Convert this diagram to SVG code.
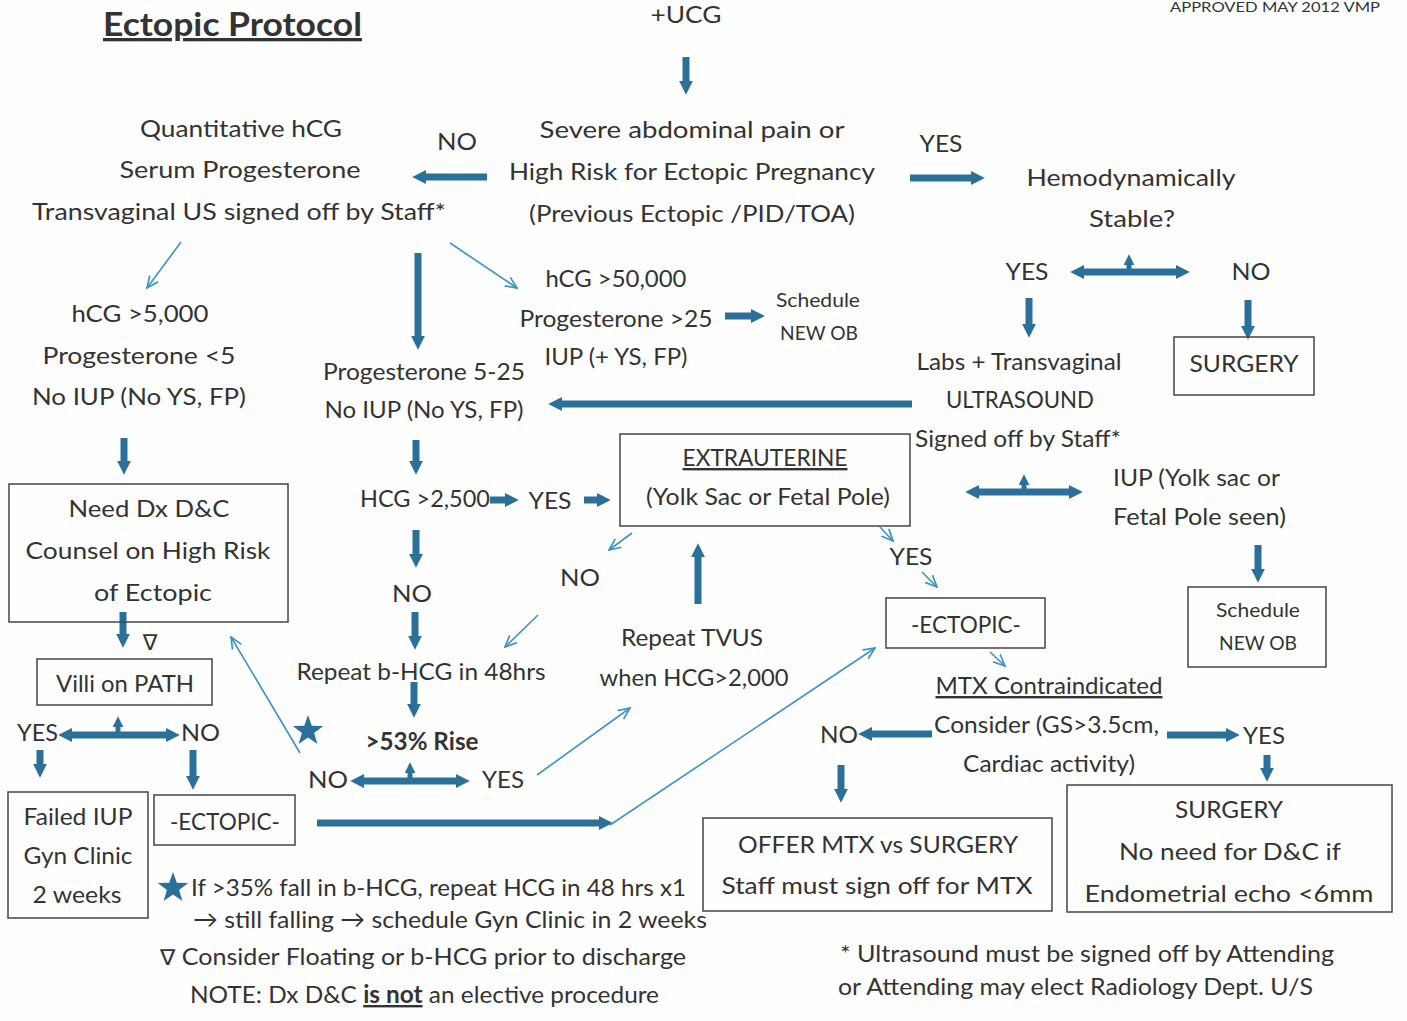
<svg xmlns="http://www.w3.org/2000/svg" width="1407" height="1021" viewBox="0 0 1407 1021">
<defs>
<style>
text{font-family:Lato,"Open Sans","Liberation Sans",sans-serif;fill:#333;font-size:24px}
.c{text-anchor:middle}
.s{font-size:20px}
.b{font-weight:bold}
.box{fill:none;stroke:#444;stroke-width:1.5}
.tk{fill:none;stroke:#2b7099;stroke-width:7;marker-end:url(#ah)}
.dbl{fill:none;stroke:#2b7099;stroke-width:7;marker-end:url(#ah);marker-start:url(#ah)}
.tick{fill:none;stroke:#2b7099;stroke-width:5;marker-end:url(#ahs)}
.tn{fill:none;stroke:#3d93c4;stroke-width:1.6;marker-end:url(#at)}
.star{fill:#2b6f9b}
</style>
<marker id="ah" viewBox="0 0 10 10" refX="3" refY="5" markerWidth="14" markerHeight="14" markerUnits="userSpaceOnUse" orient="auto-start-reverse"><path d="M0,0 L10,5 L0,10 z" fill="#2b7099"/></marker>
<marker id="ahs" viewBox="0 0 10 10" refX="3" refY="5" markerWidth="11" markerHeight="11" markerUnits="userSpaceOnUse" orient="auto"><path d="M0,0 L10,5 L0,10 z" fill="#2b7099"/></marker>
<marker id="at" viewBox="0 0 10 10" refX="9" refY="5" markerWidth="13" markerHeight="13" markerUnits="userSpaceOnUse" orient="auto"><path d="M0,1 L9,5 L0,9" fill="none" stroke="#3d93c4" stroke-width="1.3"/></marker>
<path id="star" d="M0,-16 L3.76,-5.18 L15.22,-4.94 L6.09,1.98 L9.4,12.94 L0,6.4 L-9.4,12.94 L-6.09,1.98 L-15.22,-4.94 L-3.76,-5.18 z"/>
</defs>
<rect width="1407" height="1021" fill="#fdfefd"/>

<g id="title">
<text x="103" y="36" class="b" style="font-size:33px;text-decoration:underline" textLength="259" lengthAdjust="spacingAndGlyphs">Ectopic Protocol</text>
<text x="1170" y="12" style="font-size:14px" textLength="210" lengthAdjust="spacingAndGlyphs">APPROVED MAY 2012 VMP</text>
</g>

<g id="connectors">
<path class="tk" d="M686,57 V85"/>
<path class="tk" d="M487,177 H422"/>
<path class="tk" d="M910,178 H975"/>
<path class="tn" d="M181,242 L147,288"/>
<path class="tn" d="M450,243 L517,288"/>
<path class="tk" d="M418,253 V340"/>
<path class="tk" d="M725,316 H755"/>
<path class="dbl" d="M1080,272 H1180"/>
<path class="tick" d="M1129,272 V262"/>
<path class="tk" d="M1029,298 V328"/>
<path class="tk" d="M1248,300 V330"/>
<path class="tk" d="M912,404 H558"/>
<path class="tk" d="M124,438 V465"/>
<path class="tk" d="M416,440 V465"/>
<path class="tk" d="M490,500 H509"/>
<path class="tk" d="M584,500 H601"/>
<path class="dbl" d="M975,492 H1073"/>
<path class="tick" d="M1024,492 V482"/>
<path class="tk" d="M1258,545 V573"/>
<path class="tk" d="M416,530 V558"/>
<path class="tn" d="M632,533 L609,550"/>
<path class="tk" d="M698,604 V553"/>
<path class="tn" d="M538,615 L505,647"/>
<path class="tk" d="M415,612 V640"/>
<path class="tk" d="M414,682 V708"/>
<path class="tk" d="M123,612 V638"/>
<path class="dbl" d="M68,735 H170"/>
<path class="tick" d="M118,735 V724"/>
<path class="tk" d="M40,750 V768"/>
<path class="tk" d="M193,750 V780"/>
<path class="dbl" d="M360,781 H460"/>
<path class="tick" d="M410,781 V770"/>
<path class="tn" d="M300,753 L231,637"/>
<path class="tn" d="M537,775 L630,708"/>
<path class="tk" d="M317,823 H603"/>
<path class="tn" d="M610,825 L875,648"/>
<path class="tn" d="M880,527 L893,541"/>
<path class="tn" d="M922,572 L937,587"/>
<path class="tn" d="M990,652 L1005,666"/>
<path class="tk" d="M932,734 H868"/>
<path class="tk" d="M1167,735 H1230"/>
<path class="tk" d="M841,765 V793"/>
<path class="tk" d="M1267,755 V772"/>
</g>

<g id="ucg"><text x="686" y="23" class="c" textLength="71" lengthAdjust="spacingAndGlyphs">+UCG</text></g>

<g id="severe">
<text x="692" y="138" class="c" textLength="305" lengthAdjust="spacingAndGlyphs">Severe abdominal pain  or</text>
<text x="692" y="180" class="c" textLength="366" lengthAdjust="spacingAndGlyphs">High Risk for Ectopic Pregnancy</text>
<text x="692" y="222" class="c" textLength="326" lengthAdjust="spacingAndGlyphs">(Previous Ectopic /PID/TOA)</text>
</g>
<g id="lbl-no1"><text x="457" y="150" class="c" textLength="40" lengthAdjust="spacingAndGlyphs">NO</text></g>
<g id="lbl-yes1"><text x="941" y="152" class="c" textLength="43" lengthAdjust="spacingAndGlyphs">YES</text></g>

<g id="hemo">
<text x="1131" y="186" class="c" textLength="209" lengthAdjust="spacingAndGlyphs">Hemodynamically</text>
<text x="1132" y="227" class="c" textLength="86" lengthAdjust="spacingAndGlyphs">Stable?</text>
</g>

<g id="quant">
<text x="241" y="137" class="c" textLength="202" lengthAdjust="spacingAndGlyphs">Quantitative hCG</text>
<text x="240" y="178" class="c" textLength="241" lengthAdjust="spacingAndGlyphs">Serum Progesterone</text>
<text x="239" y="220" class="c" textLength="414" lengthAdjust="spacingAndGlyphs">Transvaginal US signed off by Staff*</text>
</g>

<g id="hcg5000">
<text x="140" y="322" class="c" textLength="137" lengthAdjust="spacingAndGlyphs">hCG &gt;5,000</text>
<text x="139" y="364" class="c" textLength="193" lengthAdjust="spacingAndGlyphs">Progesterone &lt;5</text>
<text x="139" y="405" class="c" textLength="214" lengthAdjust="spacingAndGlyphs">No IUP (No YS, FP)</text>
</g>

<g id="hcg50000">
<text x="616" y="287" class="c" textLength="141" lengthAdjust="spacingAndGlyphs">hCG &gt;50,000</text>
<text x="616" y="327" class="c" textLength="193" lengthAdjust="spacingAndGlyphs">Progesterone &gt;25</text>
<text x="616" y="365" class="c" textLength="143" lengthAdjust="spacingAndGlyphs">IUP (+ YS, FP)</text>
</g>
<g id="schedule1">
<text x="818" y="307" class="c s" textLength="84" lengthAdjust="spacingAndGlyphs">Schedule</text>
<text x="819" y="340" class="c s" textLength="78" lengthAdjust="spacingAndGlyphs">NEW OB</text>
</g>

<g id="yes-no-hemo">
<text x="1027" y="280" class="c" textLength="43" lengthAdjust="spacingAndGlyphs">YES</text>
<text x="1251" y="280" class="c" textLength="39" lengthAdjust="spacingAndGlyphs">NO</text>
</g>
<g id="surgery1">
<rect x="1174" y="337" width="140" height="58" class="box"/>
<text x="1244" y="372" class="c" textLength="109" lengthAdjust="spacingAndGlyphs">SURGERY</text>
</g>

<g id="labs">
<text x="1019" y="370" class="c" textLength="205" lengthAdjust="spacingAndGlyphs">Labs + Transvaginal</text>
<text x="1020" y="408" class="c" textLength="148" lengthAdjust="spacingAndGlyphs">ULTRASOUND</text>
<text x="915" y="447" textLength="206" lengthAdjust="spacingAndGlyphs">Signed off by Staff*</text>
</g>

<g id="prog525">
<text x="424" y="380" class="c" textLength="202" lengthAdjust="spacingAndGlyphs">Progesterone 5-25</text>
<text x="424" y="418" class="c" textLength="199" lengthAdjust="spacingAndGlyphs">No IUP (No YS, FP)</text>
</g>

<g id="hcg2500">
<text x="360" y="507" textLength="130" lengthAdjust="spacingAndGlyphs">HCG &gt;2,500</text>
<text x="550" y="509" class="c" textLength="43" lengthAdjust="spacingAndGlyphs">YES</text>
</g>

<g id="extrauterine">
<rect x="620" y="434" width="290" height="92" class="box"/>
<text x="765" y="466" class="c" style="text-decoration:underline" textLength="165" lengthAdjust="spacingAndGlyphs">EXTRAUTERINE</text>
<text x="768" y="505" class="c" textLength="244" lengthAdjust="spacingAndGlyphs">(Yolk Sac or Fetal Pole)</text>
</g>

<g id="iup">
<text x="1113" y="486" textLength="167" lengthAdjust="spacingAndGlyphs">IUP (Yolk sac or</text>
<text x="1113" y="525" textLength="173" lengthAdjust="spacingAndGlyphs">Fetal Pole seen)</text>
</g>
<g id="schedule2">
<rect x="1188" y="587" width="138" height="80" class="box"/>
<text x="1258" y="617" class="c s" textLength="84" lengthAdjust="spacingAndGlyphs">Schedule</text>
<text x="1258" y="650" class="c s" textLength="78" lengthAdjust="spacingAndGlyphs">NEW OB</text>
</g>

<g id="needdx">
<rect x="9" y="484" width="279" height="138" class="box"/>
<text x="149" y="517" class="c" textLength="161" lengthAdjust="spacingAndGlyphs">Need Dx D&amp;C</text>
<text x="148" y="559" class="c" textLength="245" lengthAdjust="spacingAndGlyphs">Counsel on High Risk</text>
<text x="153" y="601" class="c" textLength="118" lengthAdjust="spacingAndGlyphs">of Ectopic</text>
</g>
<g id="tri1"><text x="150" y="650" class="c" style="font-family:'DejaVu Sans',sans-serif;font-size:22px">∇</text></g>

<g id="villi">
<rect x="37" y="659" width="175" height="46" class="box"/>
<text x="125" y="692" class="c" textLength="138" lengthAdjust="spacingAndGlyphs">Villi on PATH</text>
</g>
<g id="villi-yn">
<text x="17" y="741" textLength="41" lengthAdjust="spacingAndGlyphs">YES</text>
<text x="181" y="741" textLength="39" lengthAdjust="spacingAndGlyphs">NO</text>
</g>
<g id="failed">
<rect x="8" y="792" width="140" height="126" class="box"/>
<text x="78" y="825" class="c" textLength="109" lengthAdjust="spacingAndGlyphs">Failed IUP</text>
<text x="78" y="864" class="c" textLength="109" lengthAdjust="spacingAndGlyphs">Gyn Clinic</text>
<text x="77" y="903" class="c" textLength="89" lengthAdjust="spacingAndGlyphs">2 weeks</text>
</g>
<g id="ectopic1">
<rect x="154" y="795" width="141" height="50" class="box"/>
<text x="225" y="830" class="c" textLength="110" lengthAdjust="spacingAndGlyphs">-ECTOPIC-</text>
</g>

<g id="no2"><text x="412" y="602" class="c" textLength="40" lengthAdjust="spacingAndGlyphs">NO</text></g>
<g id="no3"><text x="580" y="586" class="c" textLength="40" lengthAdjust="spacingAndGlyphs">NO</text></g>
<g id="repeat-hcg"><text x="421" y="680" class="c" textLength="249" lengthAdjust="spacingAndGlyphs">Repeat b-HCG in 48hrs</text></g>
<g id="rise">
<use href="#star" class="star" transform="translate(308,731)"/>
<text x="422" y="750" class="c b" textLength="113" lengthAdjust="spacingAndGlyphs">&gt;53% Rise</text>
<text x="308" y="788" textLength="40" lengthAdjust="spacingAndGlyphs">NO</text>
<text x="503" y="788" class="c" textLength="42" lengthAdjust="spacingAndGlyphs">YES</text>
</g>

<g id="repeat-tvus">
<text x="692" y="646" class="c" textLength="142" lengthAdjust="spacingAndGlyphs">Repeat TVUS</text>
<text x="694" y="686" class="c" textLength="189" lengthAdjust="spacingAndGlyphs">when HCG&gt;2,000</text>
</g>

<g id="yes3"><text x="911" y="565" class="c" textLength="43" lengthAdjust="spacingAndGlyphs">YES</text></g>
<g id="ectopic2">
<rect x="886" y="598" width="159" height="50" class="box"/>
<text x="966" y="633" class="c" textLength="110" lengthAdjust="spacingAndGlyphs">-ECTOPIC-</text>
</g>

<g id="mtx">
<text x="1049" y="694" class="c" style="text-decoration:underline" textLength="227" lengthAdjust="spacingAndGlyphs">MTX Contraindicated</text>
<text x="934" y="733" textLength="225" lengthAdjust="spacingAndGlyphs">Consider (GS&gt;3.5cm,</text>
<text x="1049" y="772" class="c" textLength="172" lengthAdjust="spacingAndGlyphs">Cardiac activity)</text>
<text x="820" y="743" textLength="38" lengthAdjust="spacingAndGlyphs">NO</text>
<text x="1243" y="744" textLength="42" lengthAdjust="spacingAndGlyphs">YES</text>
</g>

<g id="offer">
<rect x="703" y="818" width="349" height="93" class="box"/>
<text x="878" y="853" class="c" textLength="280" lengthAdjust="spacingAndGlyphs">OFFER MTX vs SURGERY</text>
<text x="877" y="894" class="c" textLength="311" lengthAdjust="spacingAndGlyphs">Staff must sign off for MTX</text>
</g>

<g id="surgery2">
<rect x="1067" y="785" width="325" height="127" class="box"/>
<text x="1229" y="818" class="c" textLength="108" lengthAdjust="spacingAndGlyphs">SURGERY</text>
<text x="1230" y="860" class="c" textLength="222" lengthAdjust="spacingAndGlyphs">No need for D&amp;C if</text>
<text x="1229" y="902" class="c" textLength="289" lengthAdjust="spacingAndGlyphs">Endometrial echo &lt;6mm</text>
</g>

<g id="footnote-right">
<text x="840" y="962" textLength="494" lengthAdjust="spacingAndGlyphs">* Ultrasound must be signed off by Attending</text>
<text x="838" y="995" textLength="475" lengthAdjust="spacingAndGlyphs">or Attending may elect Radiology Dept. U/S</text>
</g>

<g id="footnote-left">
<use href="#star" class="star" transform="translate(173,888)"/>
<text x="191" y="896" textLength="495" lengthAdjust="spacingAndGlyphs">If &gt;35% fall in b-HCG, repeat HCG in 48 hrs x1</text>
<text x="193" y="928" textLength="514" lengthAdjust="spacingAndGlyphs">→ still falling → schedule Gyn Clinic in 2 weeks</text>
<text x="160" y="965" textLength="526" lengthAdjust="spacingAndGlyphs"><tspan style="font-family:'DejaVu Sans',sans-serif;font-size:22px">∇</tspan> Consider Floating or b-HCG prior to discharge</text>
<text x="190" y="1003" textLength="469" lengthAdjust="spacingAndGlyphs">NOTE: Dx D&amp;C <tspan class="b" style="text-decoration:underline">is not</tspan> an elective procedure</text>
</g>
</svg>
